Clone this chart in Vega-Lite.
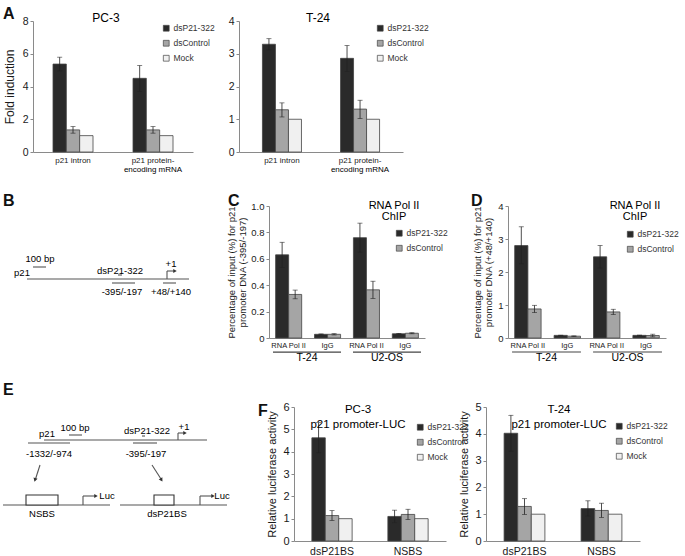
{
  "$schema": "https://vega.github.io/schema/vega-lite/v6.json",
  "background": "white",
  "padding": {"left": 2, "top": 6, "right": 2, "bottom": 2},
  "config": {
    "font": "Liberation Sans",
    "view": {"stroke": null},
    "axis": {"grid": false, "domainColor": "#8a8a8a", "tickColor": "#8a8a8a", "labelColor": "#1a1a1a", "titleColor": "#1a1a1a", "titleFontWeight": "normal", "tickSize": 3, "labelPadding": 2, "labelOverlap": false},
    "legend": {"labelFontSize": 8.5, "labelColor": "#333333", "symbolType": "square", "symbolSize": 34, "symbolStrokeColor": "#444444", "symbolStrokeWidth": 0.7, "rowPadding": 5, "labelOffset": 3}
  },
  "datasets": {
    "A_PC3": [
      {"group": "p21 intron", "series": "dsP21-322", "value": 5.37, "lo": 4.95, "hi": 5.79},
      {"group": "p21 intron", "series": "dsControl", "value": 1.35, "lo": 1.15, "hi": 1.55},
      {"group": "p21 intron", "series": "Mock", "value": 1.0},
      {"group": "p21 protein-encoding mRNA", "series": "dsP21-322", "value": 4.5, "lo": 3.7, "hi": 5.28},
      {"group": "p21 protein-encoding mRNA", "series": "dsControl", "value": 1.35, "lo": 1.15, "hi": 1.55},
      {"group": "p21 protein-encoding mRNA", "series": "Mock", "value": 1.0}
    ],
    "A_T24": [
      {"group": "p21 intron", "series": "dsP21-322", "value": 3.29, "lo": 3.12, "hi": 3.46},
      {"group": "p21 intron", "series": "dsControl", "value": 1.29, "lo": 1.07, "hi": 1.5},
      {"group": "p21 intron", "series": "Mock", "value": 1.0},
      {"group": "p21 protein-encoding mRNA", "series": "dsP21-322", "value": 2.86, "lo": 2.46, "hi": 3.25},
      {"group": "p21 protein-encoding mRNA", "series": "dsControl", "value": 1.31, "lo": 1.02, "hi": 1.58},
      {"group": "p21 protein-encoding mRNA", "series": "Mock", "value": 1.0}
    ],
    "A_line2": [{"group": "p21 protein-encoding mRNA", "t": "encoding mRNA"}],
    "C_data": [
      {"cat": "T-24 RNA Pol II", "series": "dsP21-322", "value": 0.63, "lo": 0.535, "hi": 0.725},
      {"cat": "T-24 RNA Pol II", "series": "dsControl", "value": 0.33, "lo": 0.297, "hi": 0.363},
      {"cat": "T-24 IgG", "series": "dsP21-322", "value": 0.028, "lo": 0.025, "hi": 0.031},
      {"cat": "T-24 IgG", "series": "dsControl", "value": 0.028, "lo": 0.023, "hi": 0.033},
      {"cat": "U2-OS RNA Pol II", "series": "dsP21-322", "value": 0.76, "lo": 0.65, "hi": 0.87},
      {"cat": "U2-OS RNA Pol II", "series": "dsControl", "value": 0.365, "lo": 0.3, "hi": 0.43},
      {"cat": "U2-OS IgG", "series": "dsP21-322", "value": 0.032, "lo": 0.029, "hi": 0.035},
      {"cat": "U2-OS IgG", "series": "dsControl", "value": 0.036, "lo": 0.032, "hi": 0.04}
    ],
    "D_data": [
      {"cat": "T-24 RNA Pol II", "series": "dsP21-322", "value": 2.8, "lo": 2.25, "hi": 3.37},
      {"cat": "T-24 RNA Pol II", "series": "dsControl", "value": 0.88, "lo": 0.77, "hi": 0.99},
      {"cat": "T-24 IgG", "series": "dsP21-322", "value": 0.08, "lo": 0.075, "hi": 0.085},
      {"cat": "T-24 IgG", "series": "dsControl", "value": 0.055, "lo": 0.045, "hi": 0.065},
      {"cat": "U2-OS RNA Pol II", "series": "dsP21-322", "value": 2.46, "lo": 2.12, "hi": 2.8},
      {"cat": "U2-OS RNA Pol II", "series": "dsControl", "value": 0.79, "lo": 0.71, "hi": 0.87},
      {"cat": "U2-OS IgG", "series": "dsP21-322", "value": 0.08, "lo": 0.072, "hi": 0.088},
      {"cat": "U2-OS IgG", "series": "dsControl", "value": 0.075, "lo": 0.035, "hi": 0.115}
    ],
    "groups": [{"g": "T-24"}, {"g": "U2-OS"}],
    "F_PC3": [
      {"group": "dsP21BS", "series": "dsP21-322", "value": 4.62, "lo": 3.95, "hi": 5.3},
      {"group": "dsP21BS", "series": "dsControl", "value": 1.14, "lo": 0.92, "hi": 1.36},
      {"group": "dsP21BS", "series": "Mock", "value": 1.0},
      {"group": "NSBS", "series": "dsP21-322", "value": 1.1, "lo": 0.82, "hi": 1.38},
      {"group": "NSBS", "series": "dsControl", "value": 1.19, "lo": 0.96, "hi": 1.42},
      {"group": "NSBS", "series": "Mock", "value": 1.0}
    ],
    "F_T24": [
      {"group": "dsP21BS", "series": "dsP21-322", "value": 4.02, "lo": 3.35, "hi": 4.69},
      {"group": "dsP21BS", "series": "dsControl", "value": 1.29, "lo": 0.99, "hi": 1.58},
      {"group": "dsP21BS", "series": "Mock", "value": 1.0},
      {"group": "NSBS", "series": "dsP21-322", "value": 1.21, "lo": 0.93, "hi": 1.5},
      {"group": "NSBS", "series": "dsControl", "value": 1.14, "lo": 0.88, "hi": 1.41},
      {"group": "NSBS", "series": "Mock", "value": 1.0}
    ],
    "B_lines": [
      {"x": 27, "x2": 189, "y": 73, "y2": 73},
      {"x": 33, "x2": 46, "y": 61, "y2": 61},
      {"x": 118, "x2": 122, "y": 69, "y2": 69},
      {"x": 112, "x2": 135, "y": 77, "y2": 77},
      {"x": 163, "x2": 176, "y": 77, "y2": 77},
      {"x": 167, "x2": 167, "y": 73, "y2": 65},
      {"x": 167, "x2": 174, "y": 65, "y2": 65}
    ],
    "B_heads": [{"x": 175, "y": 65}],
    "B_texts": [
      {"label": "100 bp", "x": 40, "y": 53},
      {"label": "p21", "x": 22, "y": 67},
      {"label": "dsP21-322", "x": 120, "y": 65},
      {"label": "+1", "x": 171, "y": 58},
      {"label": "-395/-197", "x": 122, "y": 86},
      {"label": "+48/+140", "x": 171, "y": 86}
    ],
    "B_letters": [{"label": "B", "x": 3, "y": -5}],
    "E_lines": [
      {"x": 44, "x2": 207, "y": 33, "y2": 33},
      {"x": 69, "x2": 82, "y": 28, "y2": 28},
      {"x": 142, "x2": 145, "y": 29, "y2": 29},
      {"x": 28, "x2": 70, "y": 36, "y2": 36},
      {"x": 133, "x2": 157, "y": 36, "y2": 36},
      {"x": 178, "x2": 178, "y": 33, "y2": 26},
      {"x": 178, "x2": 184, "y": 26, "y2": 26},
      {"x": 40, "x2": 35.5, "y": 58, "y2": 72},
      {"x": 152, "x2": 161, "y": 58, "y2": 72},
      {"x": 3, "x2": 110, "y": 98, "y2": 98},
      {"x": 83, "x2": 83, "y": 98, "y2": 89},
      {"x": 83, "x2": 95, "y": 89, "y2": 89},
      {"x": 120, "x2": 227, "y": 98, "y2": 98},
      {"x": 200, "x2": 200, "y": 98, "y2": 89},
      {"x": 200, "x2": 212, "y": 89, "y2": 89}
    ],
    "E_boxes": [
      {"x": 26, "x2": 58, "y": 88, "y2": 98},
      {"x": 154, "x2": 174, "y": 88, "y2": 98}
    ],
    "E_heads": [{"x": 185, "y": 26}, {"x": 96, "y": 89}, {"x": 213, "y": 89}],
    "E_slant": [{"x": 35, "y": 73, "dir": "left"}, {"x": 161.5, "y": 73, "dir": "right"}],
    "E_texts": [
      {"label": "100 bp", "x": 75, "y": 21},
      {"label": "p21", "x": 47, "y": 27},
      {"label": "dsP21-322", "x": 147, "y": 24},
      {"label": "+1", "x": 184, "y": 20},
      {"label": "-1332/-974", "x": 49, "y": 47},
      {"label": "-395/-197", "x": 146, "y": 47},
      {"label": "Luc", "x": 107, "y": 89},
      {"label": "Luc", "x": 222, "y": 89},
      {"label": "NSBS", "x": 42, "y": 107},
      {"label": "dsP21BS", "x": 167, "y": 107}
    ],
    "E_letters": [{"label": "E", "x": 3, "y": -17}]
  },
  "spacing": 18,
  "resolve": {"scale": {"x": "independent", "y": "independent", "xOffset": "independent", "color": "independent"}, "legend": {"color": "independent"}},
  "vconcat": [
    {
      "hconcat": [
        {
          "width": 160, "height": 131,
          "layer": [
            {"data": {"name": "A_PC3"}, "mark": {"type": "bar", "stroke": "#444444", "strokeWidth": 0.8},
             "encoding": {
               "x": {"field": "group", "type": "nominal", "scale": {"domain": ["p21 intron", "p21 protein-encoding mRNA"], "paddingInner": 0.5, "paddingOuter": 0.25}, "axis": {"title": null, "labelAngle": 0, "ticks": false, "labelFontSize": 8, "labelPadding": 4, "labelExpr": "datum.value == 'p21 protein-encoding mRNA' ? 'p21 protein-' : datum.value"}},
               "xOffset": {"field": "series", "type": "nominal", "scale": {"domain": ["dsP21-322", "dsControl", "Mock"]}},
               "y": {"field": "value", "type": "quantitative", "scale": {"domain": [0, 8], "nice": false}, "axis": {"title": "Fold induction", "values": [0, 2, 4, 6, 8], "tickCount": 20, "format": "d", "titleFontSize": 12, "labelFontSize": 10.5, "titlePadding": 6}},
               "color": {"field": "series", "type": "nominal", "scale": {"domain": ["dsP21-322", "dsControl", "Mock"], "range": ["#2a2a2a", "#a5a5a5", "#f0f0f0"]}, "legend": {"title": null, "orient": "none", "legendX": 129, "legendY": 3}}
             }},
            {"data": {"name": "A_PC3"}, "mark": {"type": "rule", "color": "#222222", "strokeWidth": 0.8},
             "encoding": {"x": {"field": "group", "type": "nominal"}, "xOffset": {"field": "series", "type": "nominal"}, "y": {"field": "lo", "type": "quantitative"}, "y2": {"field": "hi"}}},
            {"data": {"name": "A_PC3"}, "mark": {"type": "tick", "color": "#222222", "size": 5, "thickness": 0.8},
             "encoding": {"x": {"field": "group", "type": "nominal"}, "xOffset": {"field": "series", "type": "nominal"}, "y": {"field": "lo", "type": "quantitative"}}},
            {"data": {"name": "A_PC3"}, "mark": {"type": "tick", "color": "#222222", "size": 5, "thickness": 0.8},
             "encoding": {"x": {"field": "group", "type": "nominal"}, "xOffset": {"field": "series", "type": "nominal"}, "y": {"field": "hi", "type": "quantitative"}}},
            {"data": {"name": "A_line2"}, "mark": {"type": "text", "fontSize": 8, "baseline": "middle"},
             "encoding": {"x": {"field": "group", "type": "nominal"}, "y": {"datum": -1.12}, "text": {"field": "t"}}},
            {"data": {"values": [{"t": "PC-3"}]}, "mark": {"type": "text", "fontSize": 12, "dx": -7, "dy": 1, "baseline": "alphabetic"},
             "encoding": {"y": {"datum": 8}, "text": {"field": "t"}}},
            {"data": {"values": [{"t": "A"}]}, "mark": {"type": "text", "fontSize": 16, "fontWeight": "bold", "align": "left", "baseline": "middle", "dx": -110, "dy": -7, "color": "#111111"},
             "encoding": {"y": {"datum": 8}, "text": {"field": "t"}}}
          ]
        },
        {
          "width": 164, "height": 131,
          "layer": [
            {"data": {"name": "A_T24"}, "mark": {"type": "bar", "stroke": "#444444", "strokeWidth": 0.8},
             "encoding": {
               "x": {"field": "group", "type": "nominal", "scale": {"domain": ["p21 intron", "p21 protein-encoding mRNA"], "paddingInner": 0.5, "paddingOuter": 0.3}, "axis": {"title": null, "labelAngle": 0, "ticks": false, "labelFontSize": 8, "labelPadding": 4, "labelExpr": "datum.value == 'p21 protein-encoding mRNA' ? 'p21 protein-' : datum.value"}},
               "xOffset": {"field": "series", "type": "nominal", "scale": {"domain": ["dsP21-322", "dsControl", "Mock"]}},
               "y": {"field": "value", "type": "quantitative", "scale": {"domain": [0, 4], "nice": false}, "axis": {"title": null, "values": [0, 1, 2, 3, 4], "tickCount": 20, "format": "d", "labelFontSize": 10.5}},
               "color": {"field": "series", "type": "nominal", "scale": {"domain": ["dsP21-322", "dsControl", "Mock"], "range": ["#2a2a2a", "#a5a5a5", "#f0f0f0"]}, "legend": {"title": null, "orient": "none", "legendX": 137, "legendY": 3}}
             }},
            {"data": {"name": "A_T24"}, "mark": {"type": "rule", "color": "#222222", "strokeWidth": 0.8},
             "encoding": {"x": {"field": "group", "type": "nominal"}, "xOffset": {"field": "series", "type": "nominal"}, "y": {"field": "lo", "type": "quantitative"}, "y2": {"field": "hi"}}},
            {"data": {"name": "A_T24"}, "mark": {"type": "tick", "color": "#222222", "size": 5, "thickness": 0.8},
             "encoding": {"x": {"field": "group", "type": "nominal"}, "xOffset": {"field": "series", "type": "nominal"}, "y": {"field": "lo", "type": "quantitative"}}},
            {"data": {"name": "A_T24"}, "mark": {"type": "tick", "color": "#222222", "size": 5, "thickness": 0.8},
             "encoding": {"x": {"field": "group", "type": "nominal"}, "xOffset": {"field": "series", "type": "nominal"}, "y": {"field": "hi", "type": "quantitative"}}},
            {"data": {"name": "A_line2"}, "mark": {"type": "text", "fontSize": 8, "baseline": "middle"},
             "encoding": {"x": {"field": "group", "type": "nominal"}, "y": {"datum": -0.56}, "text": {"field": "t"}}},
            {"data": {"values": [{"t": "T-24"}]}, "mark": {"type": "text", "fontSize": 12, "dx": -3, "dy": 1, "baseline": "alphabetic"},
             "encoding": {"y": {"datum": 4}, "text": {"field": "t"}}}
          ]
        }
      ],
      "spacing": 13,
      "resolve": {"scale": {"x": "independent", "y": "independent", "xOffset": "independent", "color": "independent"}, "legend": {"color": "independent"}}
    },
    {
      "hconcat": [
        {
          "width": 170, "height": 132,
          "layer": [
            {"data": {"name": "B_lines"}, "mark": {"type": "rule", "color": "#555555", "strokeWidth": 1.1},
             "encoding": {"x": {"field": "x", "type": "quantitative", "scale": {"domain": [33, 203], "nice": false, "zero": false}, "axis": null}, "x2": {"field": "x2"}, "y": {"field": "y", "type": "quantitative", "scale": {"domain": [0, 132], "nice": false, "zero": false, "reverse": true}, "axis": null}, "y2": {"field": "y2"}}},
            {"data": {"name": "B_heads"}, "mark": {"type": "point", "shape": "triangle-right", "filled": true, "size": 16, "color": "#333333", "opacity": 1},
             "encoding": {"x": {"field": "x", "type": "quantitative", "axis": null}, "y": {"field": "y", "type": "quantitative", "axis": null}}},
            {"data": {"name": "B_texts"}, "mark": {"type": "text", "fontSize": 9.5, "align": "center", "baseline": "middle"},
             "encoding": {"x": {"field": "x", "type": "quantitative", "axis": null}, "y": {"field": "y", "type": "quantitative", "axis": null}, "text": {"field": "label"}}},
            {"data": {"name": "B_letters"}, "mark": {"type": "text", "fontSize": 16, "fontWeight": "bold", "align": "left", "baseline": "middle", "color": "#111111"},
             "encoding": {"x": {"field": "x", "type": "quantitative", "axis": null}, "y": {"field": "y", "type": "quantitative", "axis": null}, "text": {"field": "label"}}}
          ]
        },
        {
          "width": 156, "height": 132,
          "layer": [
            {"layer": [
              {"data": {"name": "C_data"}, "mark": {"type": "bar", "stroke": "#444444", "strokeWidth": 0.8},
               "encoding": {
                 "x": {"field": "cat", "type": "nominal", "scale": {"domain": ["T-24 RNA Pol II", "T-24 IgG", "U2-OS RNA Pol II", "U2-OS IgG"], "paddingInner": 0.33, "paddingOuter": 0.17}, "axis": {"title": null, "labelAngle": 0, "ticks": false, "labelFontSize": 7.5, "labelPadding": 3, "labelExpr": "indexof(datum.value, 'IgG') >= 0 ? 'IgG' : 'RNA Pol II'"}},
                 "xOffset": {"field": "series", "type": "nominal", "scale": {"domain": ["dsP21-322", "dsControl"]}},
                 "y": {"field": "value", "type": "quantitative", "scale": {"domain": [0, 1], "nice": false}, "axis": {"title": ["Percentage of input (%) for p21", "promoter DNA (-395/-197)"], "values": [0, 0.2, 0.4, 0.6, 0.8, 1], "tickCount": 20, "labelExpr": "datum.value == 0 ? '0' : format(datum.value, '.1f')", "titleFontSize": 9.5, "labelFontSize": 9.5, "titlePadding": 3}},
                 "color": {"field": "series", "type": "nominal", "scale": {"domain": ["dsP21-322", "dsControl"], "range": ["#2a2a2a", "#a5a5a5"]}, "legend": {"title": null, "orient": "none", "legendX": 126, "legendY": 23}}
               }},
              {"data": {"name": "C_data"}, "mark": {"type": "rule", "color": "#222222", "strokeWidth": 0.8},
               "encoding": {"x": {"field": "cat", "type": "nominal"}, "xOffset": {"field": "series", "type": "nominal"}, "y": {"field": "lo", "type": "quantitative"}, "y2": {"field": "hi"}}},
              {"data": {"name": "C_data"}, "mark": {"type": "tick", "color": "#222222", "size": 5, "thickness": 0.8},
               "encoding": {"x": {"field": "cat", "type": "nominal"}, "xOffset": {"field": "series", "type": "nominal"}, "y": {"field": "lo", "type": "quantitative"}}},
              {"data": {"name": "C_data"}, "mark": {"type": "tick", "color": "#222222", "size": 5, "thickness": 0.8},
               "encoding": {"x": {"field": "cat", "type": "nominal"}, "xOffset": {"field": "series", "type": "nominal"}, "y": {"field": "hi", "type": "quantitative"}}},
              {"data": {"values": [{"t": 1}]}, "mark": {"type": "text", "text": ["RNA Pol II", "ChIP"], "fontSize": 11, "lineHeight": 11, "align": "center", "baseline": "middle", "dx": 47},
               "encoding": {"y": {"datum": 1}}},
              {"data": {"values": [{"t": "C"}]}, "mark": {"type": "text", "fontSize": 16, "fontWeight": "bold", "align": "left", "baseline": "middle", "dx": -119, "dy": -5, "color": "#111111"},
               "encoding": {"y": {"datum": 1}, "text": {"field": "t"}}}
            ]},
            {"data": {"name": "groups"},
             "encoding": {"x": {"field": "g", "type": "nominal", "scale": {"domain": ["T-24", "U2-OS"], "paddingInner": 0.15, "paddingOuter": 0.05}, "axis": null}},
             "layer": [
               {"mark": {"type": "bar", "color": "#444444"}, "encoding": {"y": {"datum": -0.103}, "y2": {"datum": -0.111}}},
               {"mark": {"type": "text", "fontSize": 10.5, "align": "center", "baseline": "middle"}, "encoding": {"y": {"datum": -0.155}, "text": {"field": "g"}}}
             ]}
          ],
          "resolve": {"scale": {"x": "independent"}, "axis": {"x": "independent"}}
        },
        {
          "width": 158, "height": 132,
          "layer": [
            {"layer": [
              {"data": {"name": "D_data"}, "mark": {"type": "bar", "stroke": "#444444", "strokeWidth": 0.8},
               "encoding": {
                 "x": {"field": "cat", "type": "nominal", "scale": {"domain": ["T-24 RNA Pol II", "T-24 IgG", "U2-OS RNA Pol II", "U2-OS IgG"], "paddingInner": 0.33, "paddingOuter": 0.17}, "axis": {"title": null, "labelAngle": 0, "ticks": false, "labelFontSize": 7.5, "labelPadding": 3, "labelExpr": "indexof(datum.value, 'IgG') >= 0 ? 'IgG' : 'RNA Pol II'"}},
                 "xOffset": {"field": "series", "type": "nominal", "scale": {"domain": ["dsP21-322", "dsControl"]}},
                 "y": {"field": "value", "type": "quantitative", "scale": {"domain": [0, 4], "nice": false}, "axis": {"title": ["Percentage of input (%) for p21", "promoter DNA (+48/+140)"], "values": [0, 1, 2, 3, 4], "tickCount": 20, "format": "d", "titleFontSize": 9.5, "labelFontSize": 9.5, "titlePadding": 4}},
                 "color": {"field": "series", "type": "nominal", "scale": {"domain": ["dsP21-322", "dsControl"], "range": ["#2a2a2a", "#a5a5a5"]}, "legend": {"title": null, "orient": "none", "legendX": 118, "legendY": 24}}
               }},
              {"data": {"name": "D_data"}, "mark": {"type": "rule", "color": "#222222", "strokeWidth": 0.8},
               "encoding": {"x": {"field": "cat", "type": "nominal"}, "xOffset": {"field": "series", "type": "nominal"}, "y": {"field": "lo", "type": "quantitative"}, "y2": {"field": "hi"}}},
              {"data": {"name": "D_data"}, "mark": {"type": "tick", "color": "#222222", "size": 5, "thickness": 0.8},
               "encoding": {"x": {"field": "cat", "type": "nominal"}, "xOffset": {"field": "series", "type": "nominal"}, "y": {"field": "lo", "type": "quantitative"}}},
              {"data": {"name": "D_data"}, "mark": {"type": "tick", "color": "#222222", "size": 5, "thickness": 0.8},
               "encoding": {"x": {"field": "cat", "type": "nominal"}, "xOffset": {"field": "series", "type": "nominal"}, "y": {"field": "hi", "type": "quantitative"}}},
              {"data": {"values": [{"t": 1}]}, "mark": {"type": "text", "text": ["RNA Pol II", "ChIP"], "fontSize": 11, "lineHeight": 11, "align": "center", "baseline": "middle", "dx": 48},
               "encoding": {"y": {"datum": 4}}},
              {"data": {"values": [{"t": "D"}]}, "mark": {"type": "text", "fontSize": 16, "fontWeight": "bold", "align": "left", "baseline": "middle", "dx": -116, "dy": -5, "color": "#111111"},
               "encoding": {"y": {"datum": 4}, "text": {"field": "t"}}}
            ]},
            {"data": {"name": "groups"},
             "encoding": {"x": {"field": "g", "type": "nominal", "scale": {"domain": ["T-24", "U2-OS"], "paddingInner": 0.15, "paddingOuter": 0.05}, "axis": null}},
             "layer": [
               {"mark": {"type": "bar", "color": "#444444"}, "encoding": {"y": {"datum": -0.41}, "y2": {"datum": -0.44}}},
               {"mark": {"type": "text", "fontSize": 10.5, "align": "center", "baseline": "middle"}, "encoding": {"y": {"datum": -0.62}, "text": {"field": "g"}}}
             ]}
          ],
          "resolve": {"scale": {"x": "independent"}, "axis": {"x": "independent"}}
        }
      ],
      "spacing": 23,
      "resolve": {"scale": {"x": "independent", "y": "independent", "xOffset": "independent", "color": "independent"}, "legend": {"color": "independent"}}
    },
    {
      "hconcat": [
        {
          "width": 236, "height": 134,
          "layer": [
            {"data": {"name": "E_lines"}, "mark": {"type": "rule", "color": "#555555", "strokeWidth": 1.1},
             "encoding": {"x": {"field": "x", "type": "quantitative", "scale": {"domain": [33, 269], "nice": false, "zero": false}, "axis": null}, "x2": {"field": "x2"}, "y": {"field": "y", "type": "quantitative", "scale": {"domain": [0, 134], "nice": false, "zero": false, "reverse": true}, "axis": null}, "y2": {"field": "y2"}}},
            {"data": {"name": "E_boxes"}, "mark": {"type": "rect", "fill": "white", "stroke": "#333333", "strokeWidth": 1.1},
             "encoding": {"x": {"field": "x", "type": "quantitative", "axis": null}, "x2": {"field": "x2"}, "y": {"field": "y", "type": "quantitative", "axis": null}, "y2": {"field": "y2"}}},
            {"data": {"name": "E_heads"}, "mark": {"type": "point", "shape": "triangle-right", "filled": true, "size": 16, "color": "#333333", "opacity": 1},
             "encoding": {"x": {"field": "x", "type": "quantitative", "axis": null}, "y": {"field": "y", "type": "quantitative", "axis": null}}},
            {"data": {"name": "E_slant"}, "transform": [{"filter": "datum.dir == 'left'"}], "mark": {"type": "point", "shape": "triangle-down", "angle": 17, "filled": true, "size": 18, "color": "#333333", "opacity": 1},
             "encoding": {"x": {"field": "x", "type": "quantitative", "axis": null}, "y": {"field": "y", "type": "quantitative", "axis": null}}},
            {"data": {"name": "E_slant"}, "transform": [{"filter": "datum.dir == 'right'"}], "mark": {"type": "point", "shape": "triangle-down", "angle": -32, "filled": true, "size": 18, "color": "#333333", "opacity": 1},
             "encoding": {"x": {"field": "x", "type": "quantitative", "axis": null}, "y": {"field": "y", "type": "quantitative", "axis": null}}},
            {"data": {"name": "E_texts"}, "mark": {"type": "text", "fontSize": 9.5, "align": "center", "baseline": "middle"},
             "encoding": {"x": {"field": "x", "type": "quantitative", "axis": null}, "y": {"field": "y", "type": "quantitative", "axis": null}, "text": {"field": "label"}}},
            {"data": {"name": "E_letters"}, "mark": {"type": "text", "fontSize": 16, "fontWeight": "bold", "align": "left", "baseline": "middle", "color": "#111111"},
             "encoding": {"x": {"field": "x", "type": "quantitative", "axis": null}, "y": {"field": "y", "type": "quantitative", "axis": null}, "text": {"field": "label"}}}
          ]
        },
        {
          "width": 152, "height": 134,
          "layer": [
            {"data": {"name": "F_PC3"}, "mark": {"type": "bar", "stroke": "#444444", "strokeWidth": 0.8},
             "encoding": {
               "x": {"field": "group", "type": "nominal", "scale": {"domain": ["dsP21BS", "NSBS"], "paddingInner": 0.47, "paddingOuter": 0.235}, "axis": {"title": null, "labelAngle": 0, "ticks": false, "labelFontSize": 10.5, "labelPadding": 5}},
               "xOffset": {"field": "series", "type": "nominal", "scale": {"domain": ["dsP21-322", "dsControl", "Mock"]}},
               "y": {"field": "value", "type": "quantitative", "scale": {"domain": [0, 6], "nice": false}, "axis": {"title": "Relative luciferase activity", "values": [0, 1, 2, 3, 4, 5, 6], "tickCount": 20, "format": "d", "titleFontSize": 11, "labelFontSize": 11, "titlePadding": 5}},
               "color": {"field": "series", "type": "nominal", "scale": {"domain": ["dsP21-322", "dsControl", "Mock"], "range": ["#2a2a2a", "#a5a5a5", "#f0f0f0"]}, "legend": {"title": null, "orient": "none", "legendX": 122, "legendY": 16}}
             }},
            {"data": {"name": "F_PC3"}, "mark": {"type": "rule", "color": "#222222", "strokeWidth": 0.8},
             "encoding": {"x": {"field": "group", "type": "nominal"}, "xOffset": {"field": "series", "type": "nominal"}, "y": {"field": "lo", "type": "quantitative"}, "y2": {"field": "hi"}}},
            {"data": {"name": "F_PC3"}, "mark": {"type": "tick", "color": "#222222", "size": 5, "thickness": 0.8},
             "encoding": {"x": {"field": "group", "type": "nominal"}, "xOffset": {"field": "series", "type": "nominal"}, "y": {"field": "lo", "type": "quantitative"}}},
            {"data": {"name": "F_PC3"}, "mark": {"type": "tick", "color": "#222222", "size": 5, "thickness": 0.8},
             "encoding": {"x": {"field": "group", "type": "nominal"}, "xOffset": {"field": "series", "type": "nominal"}, "y": {"field": "hi", "type": "quantitative"}}},
            {"data": {"values": [{"t": 1}]}, "mark": {"type": "text", "text": ["PC-3", "p21 promoter-LUC"], "fontSize": 11.5, "lineHeight": 15, "align": "center", "baseline": "bottom", "dx": -12, "dy": 8},
             "encoding": {"y": {"datum": 6}}},
            {"data": {"values": [{"t": "F"}]}, "mark": {"type": "text", "fontSize": 16, "fontWeight": "bold", "align": "left", "baseline": "middle", "dx": -112, "dy": 4, "color": "#111111"},
             "encoding": {"y": {"datum": 6}, "text": {"field": "t"}}}
          ]
        },
        {
          "width": 154, "height": 134,
          "layer": [
            {"data": {"name": "F_T24"}, "mark": {"type": "bar", "stroke": "#444444", "strokeWidth": 0.8},
             "encoding": {
               "x": {"field": "group", "type": "nominal", "scale": {"domain": ["dsP21BS", "NSBS"], "paddingInner": 0.47, "paddingOuter": 0.235}, "axis": {"title": null, "labelAngle": 0, "ticks": false, "labelFontSize": 10.5, "labelPadding": 5}},
               "xOffset": {"field": "series", "type": "nominal", "scale": {"domain": ["dsP21-322", "dsControl", "Mock"]}},
               "y": {"field": "value", "type": "quantitative", "scale": {"domain": [0, 5], "nice": false}, "axis": {"title": "Relative luciferase activity", "values": [0, 1, 2, 3, 4, 5], "tickCount": 20, "format": "d", "titleFontSize": 11, "labelFontSize": 11, "titlePadding": 5}},
               "color": {"field": "series", "type": "nominal", "scale": {"domain": ["dsP21-322", "dsControl", "Mock"], "range": ["#2a2a2a", "#a5a5a5", "#f0f0f0"]}, "legend": {"title": null, "orient": "none", "legendX": 129, "legendY": 15}}
             }},
            {"data": {"name": "F_T24"}, "mark": {"type": "rule", "color": "#222222", "strokeWidth": 0.8},
             "encoding": {"x": {"field": "group", "type": "nominal"}, "xOffset": {"field": "series", "type": "nominal"}, "y": {"field": "lo", "type": "quantitative"}, "y2": {"field": "hi"}}},
            {"data": {"name": "F_T24"}, "mark": {"type": "tick", "color": "#222222", "size": 5, "thickness": 0.8},
             "encoding": {"x": {"field": "group", "type": "nominal"}, "xOffset": {"field": "series", "type": "nominal"}, "y": {"field": "lo", "type": "quantitative"}}},
            {"data": {"name": "F_T24"}, "mark": {"type": "tick", "color": "#222222", "size": 5, "thickness": 0.8},
             "encoding": {"x": {"field": "group", "type": "nominal"}, "xOffset": {"field": "series", "type": "nominal"}, "y": {"field": "hi", "type": "quantitative"}}},
            {"data": {"values": [{"t": 1}]}, "mark": {"type": "text", "text": ["T-24", "p21 promoter-LUC"], "fontSize": 11.5, "lineHeight": 15, "align": "center", "baseline": "bottom", "dx": -4, "dy": 8},
             "encoding": {"y": {"datum": 5}}}
          ]
        }
      ],
      "spacing": -11,
      "resolve": {"scale": {"x": "independent", "y": "independent", "xOffset": "independent", "color": "independent"}, "legend": {"color": "independent"}}
    }
  ]
}
